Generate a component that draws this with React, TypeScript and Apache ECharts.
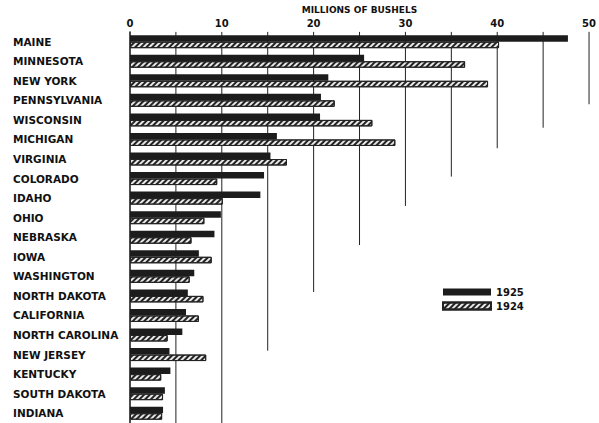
import React, { useEffect, useRef } from "react";
import * as echarts from "echarts";

const states = [
  "MAINE", "MINNESOTA", "NEW YORK", "PENNSYLVANIA", "WISCONSIN", "MICHIGAN",
  "VIRGINIA", "COLORADO", "IDAHO", "OHIO", "NEBRASKA", "IOWA", "WASHINGTON",
  "NORTH DAKOTA", "CALIFORNIA", "NORTH CAROLINA", "NEW JERSEY", "KENTUCKY",
  "SOUTH DAKOTA", "INDIANA",
];
const crop1925 = [47.7, 25.5, 21.6, 20.8, 20.7, 16.0, 15.3, 14.6, 14.2, 9.9, 9.2, 7.5, 7.0, 6.3, 6.1, 5.7, 4.3, 4.4, 3.8, 3.6];
const crop1924 = [40.2, 36.5, 39.0, 22.3, 26.4, 28.9, 17.1, 9.5, 10.1, 8.1, 6.7, 8.9, 6.5, 8.0, 7.5, 4.1, 8.3, 3.4, 3.6, 3.5];
// Guide lines: value on the x axis and the row (category position) where each line stops
const guideValues = [5, 10, 15, 20, 25, 30, 35, 40, 45, 50];
const guideEndRows = [19.5, 19.5, 15.8, 12.8, 10.4, 8.4, 6.9, 5.45, 4.4, 3.2];

const FONT = "'DejaVu Sans', sans-serif";

export default function App() {
  const ref = useRef<HTMLDivElement>(null);
  useEffect(() => {
    if (!ref.current) return;
    const chart = echarts.init(ref.current, null, { renderer: "svg" });
    chart.setOption({
      animation: false,
      backgroundColor: "#ffffff",
      grid: { left: 130, right: 5, top: 29, height: 396, containLabel: false },
      legend: {
        data: ["1925", "1924"],
        orient: "vertical",
        left: 442,
        top: 287,
        padding: 0,
        itemWidth: 48,
        itemHeight: 7,
        itemGap: 4,
        icon: "rect",
        textStyle: { fontFamily: FONT, fontWeight: "bold", fontSize: 10, color: "#111" },
      },
      xAxis: {
        type: "value",
        position: "top",
        min: 0,
        max: 50,
        interval: 10,
        axisLine: { show: false },
        axisTick: { show: false },
        splitLine: { show: false },
        axisLabel: { margin: 3, fontFamily: FONT, fontWeight: "bold", fontSize: 10, color: "#111" },
        name: "MILLIONS OF BUSHELS",
        nameLocation: "middle",
        nameGap: 17,
        nameTextStyle: { fontFamily: FONT, fontWeight: "bold", fontSize: 9, color: "#111" },
      },
      yAxis: {
        type: "category",
        data: states,
        inverse: true,
        axisLine: { show: true, lineStyle: { color: "#111", width: 1.5 } },
        axisTick: { show: false },
        axisLabel: { align: "left", margin: 117, fontFamily: FONT, fontWeight: "bold", fontSize: 10.5, color: "#111" },
      },
      series: [
        {
          type: "custom",
          name: "guides",
          z: 1,
          silent: true,
          clip: false,
          encode: { x: 0, y: 1 },
          data: guideValues.map((v, i) => [v, 0, guideEndRows[i]]),
          renderItem: (params: any, api: any) => {
            const v = api.value(0);
            const endRow = api.value(2);
            const base = Math.floor(endRow);
            const p = api.coord([v, base]);
            const band = api.size([0, 1])[1];
            const yEnd = p[1] + (endRow - base) * band;
            const top = params.coordSys.y;
            return {
              type: "line",
              shape: { x1: p[0], y1: top, x2: p[0], y2: yEnd },
              style: { stroke: "#222", lineWidth: 1 },
            };
          },
        },
        {
          type: "bar",
          name: "1925",
          z: 2,
          data: crop1925,
          barWidth: 6.5,
          barGap: "0%",
          itemStyle: { color: "#1c1c1c" },
        },
        {
          type: "bar",
          name: "1924",
          z: 2,
          data: crop1924,
          barWidth: 6.5,
          barGap: "0%",
          itemStyle: {
            color: "#e8e8e8",
            borderColor: "#222",
            borderWidth: 1,
            decal: {
              symbol: "rect",
              color: "#222",
              dashArrayX: [1, 0],
              dashArrayY: [1.6, 1.8],
              rotation: -Math.PI / 4,
              symbolSize: 1,
            },
          },
        },
      ],
    });
    return () => chart.dispose();
  }, []);
  return <div ref={ref} style={{ position: "fixed", left: 0, top: 0, width: 599, height: 423 }} />;
}
